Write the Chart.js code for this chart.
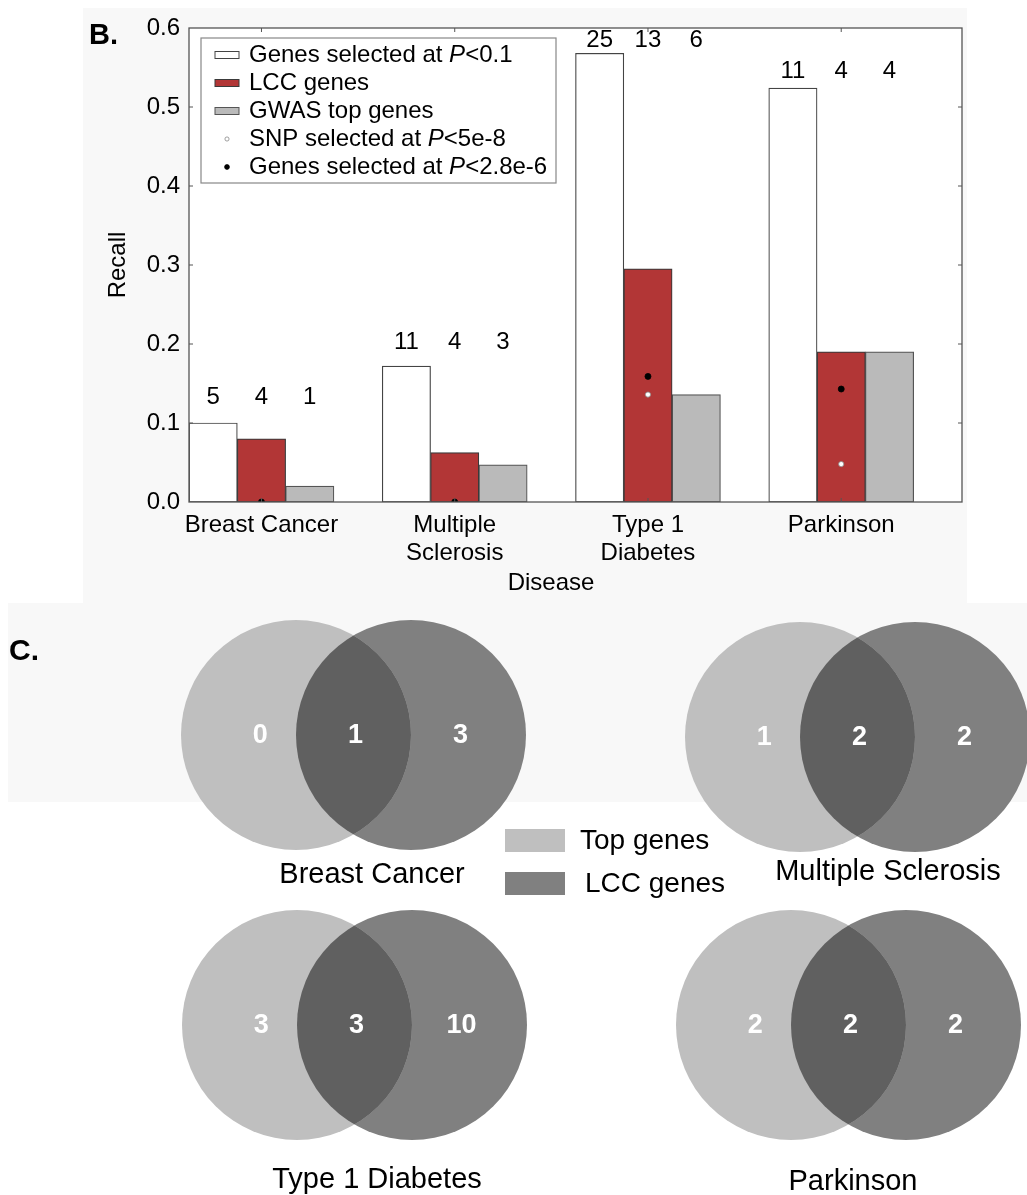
<!DOCTYPE html>
<html>
<head>
<meta charset="utf-8">
<script src="https://cdn.jsdelivr.net/npm/chart.js@4"></script>
<style>
  html, body { margin: 0; padding: 0; background: #fff; }
  #page { position: relative; width: 1027px; height: 1195px; overflow: hidden; }
  #panel-b { position: absolute; left: 0; top: 0; width: 1027px; height: 603px; }
  #panel-c { position: absolute; left: 0; top: 603px; width: 1027px; height: 592px; }
</style>
</head>
<body>
<div id="page">
  <div id="panel-b"><canvas id="recall-chart"></canvas></div>
  <div id="panel-c"><canvas id="venn-chart"></canvas></div>
</div>
<script>
const FONT = "'Liberation Sans', Arial, Helvetica, sans-serif";

// ---- data ----
const diseases = ['Breast Cancer', 'Multiple Sclerosis', 'Type 1 Diabetes', 'Parkinson'];
const diseaseTickLabels = [['Breast Cancer'], ['Multiple', 'Sclerosis'], ['Type 1', 'Diabetes'], ['Parkinson']];
const recallTicks = [0.0, 0.1, 0.2, 0.3, 0.4, 0.5, 0.6];

const recallSelected = [0.100, 0.172, 0.568, 0.524];
const recallLcc      = [0.080, 0.0625, 0.295, 0.190];
const recallGwas     = [0.020, 0.047, 0.136, 0.190];
const recallSnp      = [0, 0, 0.136, 0.048];
const recallGeneP    = [0, 0, 0.159, 0.143];

const countSelected = [5, 11, 25, 11];
const countLcc      = [4, 4, 13, 4];
const countGwas     = [1, 3, 6, 4];

const vennTopOnly = [0, 1, 3, 2];
const vennShared  = [1, 2, 3, 2];
const vennLccOnly = [3, 2, 10, 2];

// ---- layout ----
const BAR_OFFSETS = [-0.25, 0, 0.25];
const COUNT_LIFT = [26, 24, 13, 17];

const VENN_CENTER_X = [296, 800, 297, 791];
const VENN_CENTER_Y = [735, 737, 1025, 1025];
const VENN_GAP = 115;
const VENN_RADIUS = 115;
const VENN_TITLE_X = [372, 888, 377, 853];
const VENN_TITLE_Y = [875, 872, 1180, 1182];

const legendParts = [
  ['Genes selected at ', 'P', '<0.1'],
  ['LCC genes'],
  ['GWAS top genes'],
  ['SNP selected at ', 'P', '<5e-8'],
  ['Genes selected at ', 'P', '<2.8e-6'],
];

function barSet(k, values, fill, edge) {
  return {
    type: 'bar',
    label: legendParts[k].join(''),
    parts: legendParts[k],
    data: values.map((v, i) => ({ x: i + BAR_OFFSETS[k], y: v })),
    backgroundColor: fill,
    borderColor: edge,
    borderWidth: 1.2,
    borderSkipped: false,
    grouped: false,
    categoryPercentage: 1,
    barPercentage: 1,
    order: 0,
  };
}

function dotSet(k, values, fill, edge, radius, order) {
  return {
    type: 'scatter',
    label: legendParts[k].join(''),
    parts: legendParts[k],
    data: values.map((v, i) => ({ x: i, y: v })),
    pointRadius: radius,
    pointBackgroundColor: fill,
    pointBorderColor: edge,
    pointBorderWidth: 0.8,
    clip: 0,
    order,
  };
}

const recallDecor = {
  id: 'recallDecor',
  beforeDraw(chart) {
    const { ctx, chartArea: a } = chart;
    ctx.save();
    ctx.fillStyle = '#f8f8f8';
    ctx.fillRect(83, 8, 884, 595);
    ctx.fillStyle = '#fff';
    ctx.fillRect(a.left, a.top, a.width, a.height);
    ctx.restore();
  },
  afterDatasetsDraw(chart) {
    const { ctx, scales: { y } } = chart;
    const counts = [countSelected, countLcc, countGwas];
    ctx.save();
    ctx.font = `24px ${FONT}`;
    ctx.fillStyle = '#000';
    ctx.textAlign = 'center';
    ctx.textBaseline = 'middle';
    diseases.forEach((d, i) => {
      const yTop = y.getPixelForValue(recallSelected[i]) - COUNT_LIFT[i];
      counts.forEach((arr, k) => {
        const bar = chart.getDatasetMeta(k).data[i];
        ctx.fillText(String(arr[i]), bar.x, yTop);
      });
    });
    ctx.restore();
  },
  afterDraw(chart) {
    const { ctx, chartArea: a, scales: { x, y } } = chart;
    ctx.save();
    // frame + inward ticks
    ctx.strokeStyle = '#555';
    ctx.lineWidth = 1.3;
    ctx.strokeRect(a.left, a.top, a.width, a.height);
    ctx.lineWidth = 1;
    ctx.beginPath();
    y.ticks.slice(1, -1).forEach(t => {
      const py = y.getPixelForValue(t.value);
      ctx.moveTo(a.left, py); ctx.lineTo(a.left + 4, py);
      ctx.moveTo(a.right, py); ctx.lineTo(a.right - 4, py);
    });
    x.ticks.forEach(t => {
      const px = x.getPixelForValue(t.value);
      ctx.moveTo(px, a.top); ctx.lineTo(px, a.top + 4);
      ctx.moveTo(px, a.bottom); ctx.lineTo(px, a.bottom - 4);
    });
    ctx.stroke();

    // x title
    ctx.fillStyle = '#000';
    ctx.font = `24px ${FONT}`;
    ctx.textAlign = 'center';
    ctx.textBaseline = 'middle';
    ctx.fillText('Disease', 551, 583);

    // legend
    const bx = a.left + 12, by = a.top + 10;
    ctx.fillStyle = '#fff';
    ctx.fillRect(bx, by, 355, 145);
    ctx.strokeStyle = '#888';
    ctx.lineWidth = 1.2;
    ctx.strokeRect(bx, by, 355, 145);
    ctx.textAlign = 'left';
    chart.data.datasets.forEach((ds, k) => {
      const ry = a.top + 27 + k * 28;
      if (ds.type === 'bar') {
        ctx.fillStyle = ds.backgroundColor;
        ctx.strokeStyle = ds.borderColor;
        ctx.lineWidth = 1;
        ctx.fillRect(a.left + 26, ry - 3.5, 24, 7);
        ctx.strokeRect(a.left + 26, ry - 3.5, 24, 7);
      } else {
        ctx.beginPath();
        ctx.arc(a.left + 38, ry, ds.pointRadius * 0.8, 0, Math.PI * 2);
        ctx.fillStyle = ds.pointBackgroundColor;
        ctx.fill();
        ctx.strokeStyle = ds.pointBorderColor;
        ctx.lineWidth = 0.8;
        ctx.stroke();
      }
      let tx = a.left + 60;
      ctx.fillStyle = '#000';
      ds.parts.forEach((p, j) => {
        ctx.font = (j === 1 ? 'italic ' : '') + `24px ${FONT}`;
        ctx.fillText(p, tx, ry);
        tx += ctx.measureText(p).width;
      });
    });

    // panel letter
    ctx.font = `bold 29px ${FONT}`;
    ctx.textBaseline = 'alphabetic';
    ctx.fillText('B.', 89, 44);
    ctx.restore();
  },
};

new Chart(document.getElementById('recall-chart'), {
  type: 'bar',
  data: {
    datasets: [
      barSet(0, recallSelected, '#ffffff', '#444444'),
      barSet(1, recallLcc, '#b23636', '#3a3a3a'),
      barSet(2, recallGwas, '#bababa', '#555555'),
      dotSet(3, recallSnp, '#ffffff', '#888888', 2.6, -1),
      dotSet(4, recallGeneP, '#000000', '#000000', 3, -2),
    ],
  },
  options: {
    responsive: true,
    maintainAspectRatio: false,
    animation: false,
    events: [],
    layout: { autoPadding: false, padding: { left: 83, right: 65, top: 28, bottom: 0 } },
    plugins: { legend: { display: false }, tooltip: { enabled: false } },
    scales: {
      x: {
        type: 'linear',
        min: -0.375,
        max: 3.625,
        offset: false,
        afterBuildTicks: s => { s.ticks = diseases.map((d, i) => ({ value: i })); },
        afterFit: s => { s.height = 101; },
        grid: { display: false, drawTicks: false },
        border: { display: false },
        ticks: {
          autoSkip: false,
          maxRotation: 0,
          padding: 9,
          color: '#000',
          font: { family: FONT, size: 24, lineHeight: 1.17 },
          callback: (v, i) => diseaseTickLabels[i],
        },
      },
      y: {
        min: 0,
        max: 0.6,
        afterBuildTicks: s => { s.ticks = recallTicks.map(v => ({ value: v })); },
        afterFit: s => { s.width = 106; },
        grid: { display: false, drawTicks: false },
        border: { display: false },
        ticks: {
          padding: 9,
          color: '#000',
          font: { family: FONT, size: 24 },
          callback: v => v.toFixed(1),
        },
        title: {
          display: true,
          text: 'Recall',
          color: '#000',
          font: { family: FONT, size: 24 },
          padding: { top: 21, bottom: 0 },
        },
      },
    },
  },
  plugins: [recallDecor],
});

// ---- Venn panel ----
const vennDecor = {
  id: 'vennDecor',
  beforeDraw(chart) {
    const { ctx, scales: { x, y } } = chart;
    ctx.save();
    ctx.fillStyle = '#f8f8f8';
    ctx.fillRect(x.getPixelForValue(8), y.getPixelForValue(603),
      x.getPixelForValue(1027) - x.getPixelForValue(8), y.getPixelForValue(802) - y.getPixelForValue(603));
    ctx.restore();
  },
  afterDatasetsDraw(chart) {
    const { ctx, scales: { x, y } } = chart;
    const left = chart.getDatasetMeta(0).data;
    const right = chart.getDatasetMeta(1).data;
    ctx.save();
    diseases.forEach((d, i) => {
      const l = left[i], r = right[i];
      const rad = l.options.radius;
      ctx.save();
      ctx.beginPath();
      ctx.arc(l.x, l.y, rad, 0, Math.PI * 2);
      ctx.clip();
      ctx.beginPath();
      ctx.arc(r.x, r.y, r.options.radius, 0, Math.PI * 2);
      ctx.fillStyle = '#606060';
      ctx.fill();
      ctx.restore();

      ctx.fillStyle = '#fff';
      ctx.font = `bold 27px ${FONT}`;
      ctx.textAlign = 'center';
      ctx.textBaseline = 'middle';
      ctx.fillText(String(vennTopOnly[i]), l.x - rad * 0.31, l.y + 1);
      ctx.fillText(String(vennShared[i]), (l.x + r.x) / 2 + 2, l.y + 1);
      ctx.fillText(String(vennLccOnly[i]), r.x + rad * 0.43, l.y + 1);

      ctx.fillStyle = '#000';
      ctx.font = `29px ${FONT}`;
      ctx.fillText(diseases[i], x.getPixelForValue(VENN_TITLE_X[i]), y.getPixelForValue(VENN_TITLE_Y[i]));
    });

    // legend
    const sets = chart.data.datasets;
    const lx = [580, 585];
    [829, 872].forEach((top, k) => {
      const px = x.getPixelForValue(505), py = y.getPixelForValue(top);
      ctx.fillStyle = sets[k].pointBackgroundColor;
      ctx.fillRect(px, py, 60, 23);
      ctx.fillStyle = '#000';
      ctx.font = `28px ${FONT}`;
      ctx.textAlign = 'left';
      ctx.textBaseline = 'middle';
      ctx.fillText(sets[k].label, x.getPixelForValue(lx[k]), py + 12);
    });

    ctx.font = `bold 30px ${FONT}`;
    ctx.textBaseline = 'alphabetic';
    ctx.textAlign = 'left';
    ctx.fillText('C.', x.getPixelForValue(9), y.getPixelForValue(660));
    ctx.restore();
  },
};

new Chart(document.getElementById('venn-chart'), {
  type: 'scatter',
  data: {
    datasets: [
      {
        label: 'Top genes',
        data: diseases.map((d, i) => ({ x: VENN_CENTER_X[i], y: VENN_CENTER_Y[i] })),
        pointRadius: VENN_RADIUS,
        pointBackgroundColor: '#bfbfbf',
        pointBorderWidth: 0,
        clip: false,
      },
      {
        label: 'LCC genes',
        data: diseases.map((d, i) => ({ x: VENN_CENTER_X[i] + VENN_GAP, y: VENN_CENTER_Y[i] })),
        pointRadius: VENN_RADIUS,
        pointBackgroundColor: '#808080',
        pointBorderWidth: 0,
        clip: false,
      },
    ],
  },
  options: {
    responsive: true,
    maintainAspectRatio: false,
    animation: false,
    events: [],
    layout: { autoPadding: false, padding: 0 },
    plugins: { legend: { display: false }, tooltip: { enabled: false } },
    scales: {
      x: { type: 'linear', min: 0, max: 1027, display: false },
      y: { type: 'linear', min: 603, max: 1195, reverse: true, display: false },
    },
  },
  plugins: [vennDecor],
});
</script>
</body>
</html>
